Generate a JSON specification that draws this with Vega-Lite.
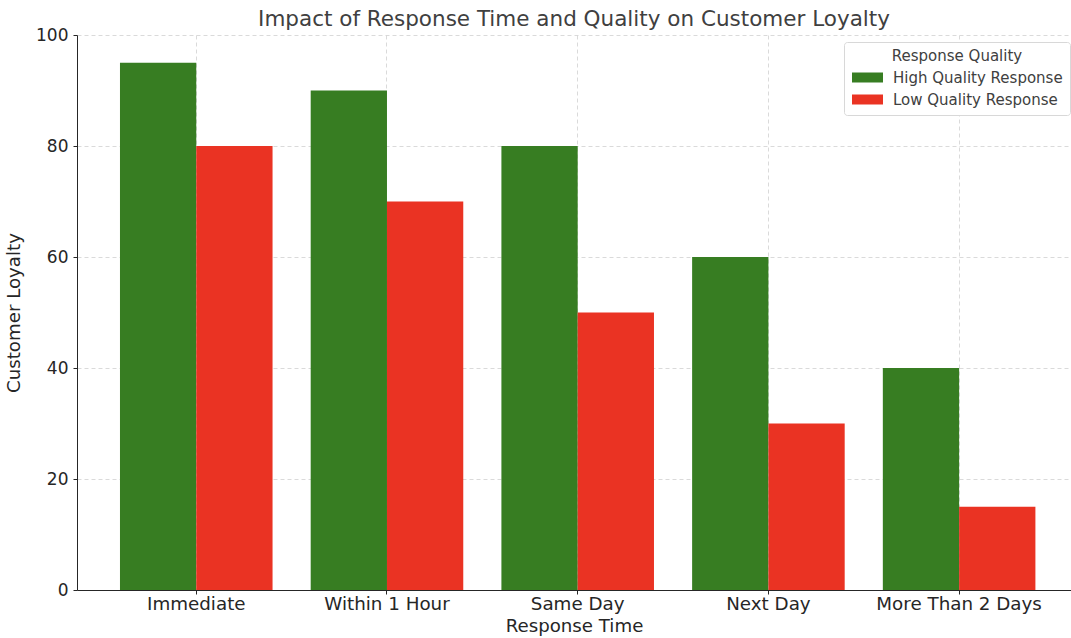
{
  "$schema": "https://vega.github.io/schema/vega-lite/v6.json",
  "width": 994,
  "height": 555,
  "autosize": {"type": "none"},
  "padding": {"left": 77, "top": 35, "right": 0, "bottom": 48},
  "title": {
    "text": "Impact of Response Time and Quality on Customer Loyalty",
    "font": "DejaVu Sans",
    "fontSize": 21.5,
    "fontWeight": "normal",
    "color": "#404040",
    "anchor": "middle",
    "frame": "group",
    "offset": 5,
    "dy": 9
  },
  "config": {
    "view": {"stroke": null},
    "font": "DejaVu Sans",
    "axis": {
      "labelFont": "DejaVu Sans",
      "titleFont": "DejaVu Sans",
      "labelFontSize": 17,
      "titleFontSize": 18.2,
      "titleFontWeight": "normal",
      "labelColor": "#262626",
      "titleColor": "#262626",
      "domainColor": "#262626",
      "tickColor": "#262626",
      "tickSize": 4,
      "gridColor": "#d0d0d0",
      "gridDash": [4, 3],
      "gridWidth": 0.8
    }
  },
  "data": {
    "values": [
      {"time": "Immediate", "quality": "High Quality Response", "loyalty": 95},
      {"time": "Immediate", "quality": "Low Quality Response", "loyalty": 80},
      {"time": "Within 1 Hour", "quality": "High Quality Response", "loyalty": 90},
      {"time": "Within 1 Hour", "quality": "Low Quality Response", "loyalty": 70},
      {"time": "Same Day", "quality": "High Quality Response", "loyalty": 80},
      {"time": "Same Day", "quality": "Low Quality Response", "loyalty": 50},
      {"time": "Next Day", "quality": "High Quality Response", "loyalty": 60},
      {"time": "Next Day", "quality": "Low Quality Response", "loyalty": 30},
      {"time": "More Than 2 Days", "quality": "High Quality Response", "loyalty": 40},
      {"time": "More Than 2 Days", "quality": "Low Quality Response", "loyalty": 15}
    ]
  },
  "mark": {"type": "bar"},
  "encoding": {
    "x": {
      "field": "time",
      "type": "nominal",
      "sort": ["Immediate", "Within 1 Hour", "Same Day", "Next Day", "More Than 2 Days"],
      "scale": {"paddingInner": 0.2, "paddingOuter": 0.206, "align": 0.547},
      "axis": {
        "title": "Response Time",
        "labelAngle": 0,
        "labelFontSize": 18.3,
        "grid": true,
        "bandPosition": 0.5,
        "labelPadding": 1,
        "titlePadding": 5
      }
    },
    "xOffset": {
      "field": "quality",
      "type": "nominal",
      "scale": {"paddingInner": 0, "paddingOuter": 0}
    },
    "y": {
      "field": "loyalty",
      "type": "quantitative",
      "scale": {"domain": [0, 100], "nice": false},
      "axis": {
        "title": "Customer Loyalty",
        "values": [0, 20, 40, 60, 80, 100],
        "grid": true,
        "labelPadding": 5,
        "titlePadding": 12
      }
    },
    "color": {
      "field": "quality",
      "type": "nominal",
      "scale": {
        "domain": ["High Quality Response", "Low Quality Response"],
        "range": ["#377d22", "#ea3323"]
      },
      "legend": {
        "title": "Response Quality",
        "orient": "none",
        "legendX": 767,
        "legendY": 7,
        "titleFont": "DejaVu Sans",
        "titleFontSize": 15,
        "titleFontWeight": "normal",
        "titleColor": "#404040",
        "titleAnchor": "middle",
        "titlePadding": 6,
        "labelFont": "DejaVu Sans",
        "labelFontSize": 15,
        "labelColor": "#404040",
        "labelLimit": 400,
        "symbolType": "M-3.1,-1H3.1V1H-3.1Z",
        "symbolSize": 100,
        "symbolStrokeWidth": 0,
        "symbolOpacity": 1,
        "symbolOffset": 9,
        "labelOffset": 18,
        "rowPadding": 6,
        "padding": 7,
        "strokeColor": "#d8d8d8",
        "cornerRadius": 3,
        "fillColor": "white"
      }
    }
  }
}
